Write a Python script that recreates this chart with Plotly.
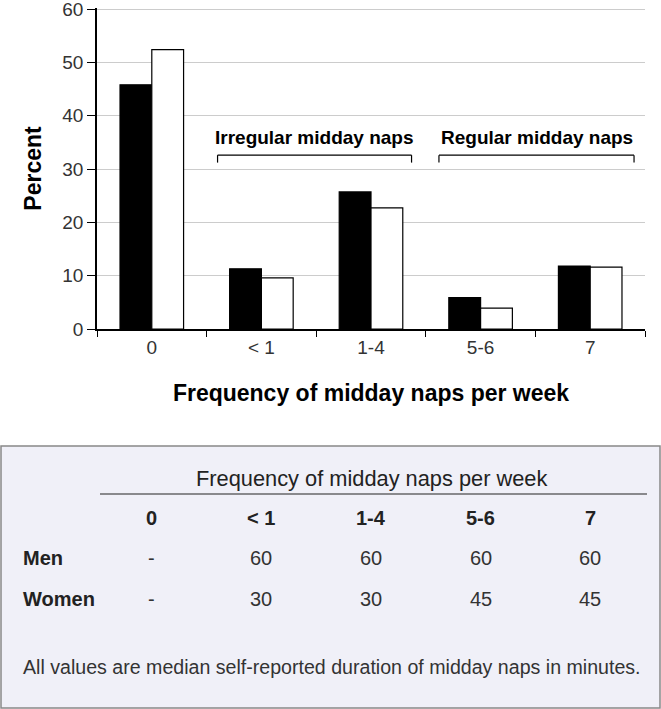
import plotly.graph_objects as go

categories = ["0", "< 1", "1-4", "5-6", "7"]
men_pct = [45.8, 11.3, 25.7, 5.9, 11.8]
women_pct = [52.4, 9.6, 22.7, 3.9, 11.6]
y_ticks = [0, 10, 20, 30, 40, 50, 60]

table_title = "Frequency of midday naps per week"
row_labels = ["Men", "Women"]
men_minutes = ["-", "60", "60", "60", "60"]
women_minutes = ["-", "30", "30", "45", "45"]
footnote = "All values are median self-reported duration of midday naps in minutes."

FONT = "Liberation Sans, Arial, sans-serif"

W, H = 661, 709
ML, MR, MT, MB = 97, 16, 8, 380
PW = W - ML - MR
PH = H - MT - MB


def py(p):
    # pixel row -> paper y
    return (H - MB - p) / PH


def px(p):
    return (p - ML) / PW


fig = go.Figure()
fig.add_trace(go.Bar(x=categories, y=men_pct, name="Men",
                     marker=dict(color="black", line=dict(color="black", width=1.2))))
fig.add_trace(go.Bar(x=categories, y=women_pct, name="Women",
                     marker=dict(color="white", line=dict(color="black", width=1.2))))

fig.update_layout(
    width=W, height=H,
    margin=dict(l=ML, r=MR, t=MT, b=MB, pad=0),
    paper_bgcolor="white", plot_bgcolor="white",
    barmode="group", bargap=0.42, bargroupgap=0,
    showlegend=False,
    font=dict(family=FONT, color="#333333", size=18),
)
fig.update_xaxes(
    type="category", range=[-0.5, len(categories) - 0.5], automargin=False,
    showline=True, linecolor="black", linewidth=1.5,
    ticks="outside", tickson="boundaries", ticklen=6, tickcolor="black", tickwidth=1,
    showgrid=False, tickfont=dict(size=19, color="#333333"),
    title=dict(text="<b>Frequency of midday naps per week</b>",
               font=dict(size=23, color="black"), standoff=28),
)
fig.update_yaxes(
    range=[0, 60.19], tickvals=y_ticks, automargin=False, ticklabeloverflow="allow",
    showline=True, linecolor="black", linewidth=1.5,
    ticks="outside", ticklen=8, tickcolor="black", showgrid=True, gridcolor="#cccccc",
    gridwidth=1, zeroline=False, tickfont=dict(size=19, color="#333333"),
    title=dict(text="<b>Percent</b>", font=dict(size=23, color="black"), standoff=14),
)

# group brackets
brackets = [(0.6, 2.37, "Irregular midday naps"), (2.62, 4.4, "Regular midday naps")]
for x0, x1, label in brackets:
    for sx0, sx1, sy0, sy1 in [(x0, x1, 32.6, 32.6), (x0, x0, 32.6, 31.2), (x1, x1, 32.6, 31.2)]:
        fig.add_shape(type="line", xref="x", yref="y", x0=sx0, x1=sx1, y0=sy0, y1=sy1,
                      line=dict(color="black", width=1.2))
    fig.add_annotation(x=(x0 + x1) / 2, y=36, xref="x", yref="y", text="<b>" + label + "</b>",
                       showarrow=False, font=dict(size=19, color="black"))

# table box
fig.add_shape(type="rect", xref="paper", yref="paper",
              x0=px(1), x1=px(660), y0=py(708), y1=py(446),
              fillcolor="#f0f0f8", line=dict(color="#888888", width=1.5), layer="below")
fig.add_annotation(x=0.5, y=py(478), xref="paper", yref="paper", text=table_title,
                   yanchor="middle", showarrow=False, font=dict(size=21.8, color="#222222"))
fig.add_shape(type="line", xref="paper", yref="paper", x0=px(100), x1=px(647),
              y0=py(494), y1=py(494), line=dict(color="#222222", width=1.2))
for i, c in enumerate(categories):
    fig.add_annotation(x=i, y=py(518), xref="x", yref="paper", text="<b>" + c + "</b>",
                       yanchor="middle", showarrow=False, font=dict(size=20, color="#222222"))
    fig.add_annotation(x=i, y=py(558), xref="x", yref="paper", text=men_minutes[i],
                       yanchor="middle", showarrow=False, font=dict(size=20, color="#333333"))
    fig.add_annotation(x=i, y=py(599), xref="x", yref="paper", text=women_minutes[i],
                       yanchor="middle", showarrow=False, font=dict(size=20, color="#333333"))
for lab, yy in zip(row_labels, [558, 599]):
    fig.add_annotation(x=px(21), y=py(yy), xref="paper", yref="paper", text="<b>" + lab + "</b>",
                       xanchor="left", yanchor="middle", showarrow=False,
                       font=dict(size=20, color="#222222"))
fig.add_annotation(x=px(21), y=py(667), xref="paper", yref="paper", text=footnote,
                   xanchor="left", yanchor="middle", showarrow=False,
                   font=dict(size=19.6, color="#333333"))

fig.write_html("out.html", config={"displayModeBar": False},
               post_script="document.body.style.margin='0';document.body.style.overflow='hidden';")
